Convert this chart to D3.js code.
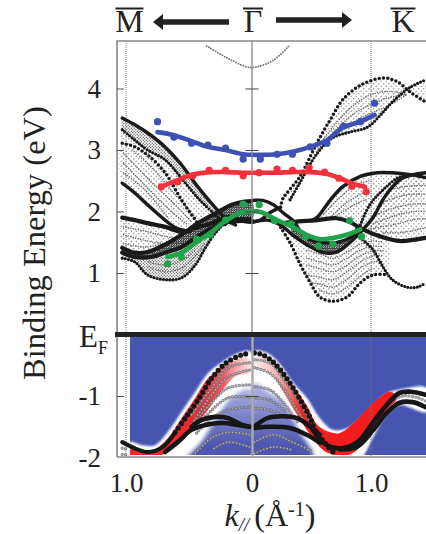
<!DOCTYPE html>
<html><head><meta charset="utf-8">
<script src="https://cdn.jsdelivr.net/npm/d3@7"></script>
<style>html,body{margin:0;padding:0;background:#fff}svg{display:block}text{font-family:"Liberation Serif","Times New Roman",serif;fill:#222}</style>
</head><body><svg id="c" width="426" height="534"></svg>
<script>
// ---------- axis data ----------
const energyTicks=[4,3,2,1,-1,-2], energyLabels=["4","3","2","1","-1","-2"];
const kTicks=[-1,0,1], kLabels=["1.0","0","1.0"];
const symmetryNames=["M","Γ","K"];
// ---------- calculated band edges (k, E) ----------
const L1k=[-1.03,-.93,-.83,-.69,-.56,-.43,-.29,-.19,-.13], L1E=[3.52,3.41,3.28,3.05,2.76,2.4,2.06,1.85,1.78];
const L1bk=[-1.03,-.93,-.83,-.69,-.56,-.43,-.29,-.21], L1bE=[3.33,3.16,3.0,2.84,2.54,2.22,1.94,1.78];
const L3k=[-1.03,-.93,-.83,-.69,-.56,-.45,-.41], L3E=[3.11,3.05,2.92,2.63,2.19,1.86,1.75];
const L4k=[-1.03,-.93,-.83,-.69,-.6,-.49], L4E=[2.46,2.3,2.11,1.86,1.73,1.67];
const L5k=[-1.03,-.93,-.83,-.69,-.56,-.45,-.32,-.19,-.1,0], L5E=[1.9,1.86,1.81,1.75,1.67,1.73,1.81,1.91,1.86,1.83];
const H1k=[-1.03,-.93,-.8,-.69,-.56,-.45,-.32,-.19,-.06,0], H1E=[1.33,1.26,1.26,1.33,1.42,1.57,1.73,1.83,1.85,1.85];
const H2k=[-1.03,-.93,-.83,-.69,-.56,-.43,-.29,-.16,-.06,0], H2E=[1.41,1.33,1.34,1.46,1.62,1.81,1.97,2.11,2.16,2.17];
const Bk=[-1.03,-.93,-.83,-.69,-.56,-.45,-.37,-.29,-.21,-.08,0], BE=[1.24,1.18,.97,.89,.92,1.13,1.41,1.65,1.81,1.89,1.89];
const Rh1k=[.01,.09,.18,.26,.34,.46,.68,.82,.91], Rh1E=[2.18,2.18,2.11,1.98,1.86,1.57,1.49,1.57,1.7];
const Rupk=[.01,.07,.15,.24], RupE=[1.83,1.86,1.98,2.07];
const Rfk=[.24,.34,.55,.71,.82,.93,1.10,1.24,1.46], RfE=[1.8,1.83,1.86,1.89,1.83,1.71,1.58,1.52,1.57];
const Rbk=[.01,.13,.24,.34,.46,.60,.71,.82,.93,1.02,1.10,1.18,1.27,1.46], RbE=[1.83,1.86,1.78,1.62,1.46,1.33,1.34,1.49,1.7,1.91,2.19,2.4,2.55,2.63];
const Rck=[.24,.32,.40,.49,.57,.68,.80,.91,1.02,1.13], RcE=[1.74,1.49,1.16,.84,.61,.54,.61,.84,.97,.97];
const Rdnk=[.88,.91,1.02,1.10,1.18,1.30,1.39,1.46], RdnE=[1.72,1.59,1.37,1.1,.89,.77,.77,.84];
const Rdk=[.5,.55,.66,.76,.91,1.05,1.18,1.33,1.46], RdE=[1.85,1.91,2.19,2.4,2.57,2.63,2.63,2.6,2.55];
const Rgk=[.91,.99,1.10,1.22,1.3], RgE=[1.78,2.11,2.35,2.54,2.6];
const Rek=[.24,.26,.40,.55,.66,.76,.91,1.10,1.22,1.33,1.46], ReE=[2.07,2.21,2.56,3.13,3.5,3.81,4.05,4.17,4.11,3.94,3.78];
const Rtk=[.32,.40,.55,.68,.82,.97,1.08,1.18,1.33,1.46], RtE=[2.19,2.46,2.95,3.2,3.29,3.37,3.57,3.78,4.02,4.14];
const parabolaK=[-.36,-.2,-.04,.04,.18,.31], parabolaE=[4.69,4.5,4.35,4.35,4.46,4.69];
// ---------- interior dotted bands (k, E) ----------
const interiorUpper=[
 [[-1.02,-.83,-.63,-.48],[2.95,2.54,2.15,1.83]],[[-1.02,-.83,-.63,-.52],[2.79,2.38,1.98,1.8]],
 [[-1.02,-.85,-.67],[2.63,2.35,1.91]],[[-.95,-.8,-.62,-.45],[3.0,2.72,2.3,1.9]],
 [[-1.02,-.85,-.7,-.58],[1.75,1.68,1.6,1.55]],[[-1.02,-.85,-.7,-.58],[1.62,1.53,1.48,1.5]],[[-1.02,-.85,-.7],[1.48,1.42,1.48]],
 [[-.82,-.69,-.56,-.45,-.37],[1.1,1.02,1.08,1.28,1.5]],[[-.82,-.69,-.56,-.45],[1.18,1.13,1.2,1.38]],
 [[.46,.57,.68,.80,.91,1.02,1.10],[1.37,1.31,1.24,1.34,1.47,1.52,1.5]],
 [[.46,.57,.68,.80,.91,1.02,1.10],[1.24,1.18,1.13,1.24,1.37,1.44,1.42]],
 [[.46,.57,.68,.80,.91,1.02,1.10],[1.13,1.07,1.02,1.13,1.28,1.36,1.36]],
 [[.46,.57,.68,.80,.91,1.02,1.10],[.97,.93,.89,1.02,1.18,1.28,1.28]],
 [[.51,.57,.68,.80,.91,1.02,1.10],[.84,.82,.77,.9,1.08,1.18,1.18]],
 [[.57,.68,.80,.91,1.02],[.72,.66,.77,.95,1.08]],
 [[1.16,1.27,1.36,1.46],[2.36,2.4,2.42,2.42]],[[1.1,1.27,1.36,1.46],[2.15,2.26,2.28,2.28]],
 [[1.05,1.2,1.36,1.46],[1.95,2.06,2.12,2.12]],[[1.02,1.2,1.36,1.46],[1.8,1.93,2,2]],
 [[1.0,1.2,1.36,1.46],[1.72,1.79,1.87,1.88]],[[1.1,1.27,1.46],[1.66,1.66,1.74]],
 [[.6,.75,.9,1.0],[1.95,2.25,2.45,2.5]],[[.66,.8,.95],[1.9,2.15,2.32]],[[.7,.85,.97],[1.92,2.1,2.2]],
 [[.55,.7,.85,1,1.15,1.3],[3.05,3.42,3.72,3.9,3.95,3.9]],[[.55,.7,.85,1,1.15,1.3],[3,3.32,3.58,3.74,3.85,3.9]],
 [[.6,.7,.85,1,1.15,1.3],[3.12,3.25,3.45,3.6,3.72,3.9]]
];
// ---------- ARPES lines and points ----------
const blueLineK=[-.75,-.62,-.49,-.35,-.21,-.07,.07,.21,.34,.49,.63,.76,.91,1.03], blueLineE=[3.29,3.24,3.15,3.05,3.0,2.93,2.92,2.93,2.97,3.05,3.16,3.36,3.46,3.57];
const blueK=[-.75,-.62,-.48,-.35,-.21,-.07,.07,.21,.34,.49,.63,.77,.91,1.03], blueE=[3.46,3.21,3.11,3.08,3.03,2.85,2.85,2.93,2.93,3.05,3.11,3.39,3.46,3.76];
const redLineK=[-.72,-.6,-.47,-.33,-.2,-.07,.07,.21,.34,.49,.63,.74,.85,.95], redLineE=[2.4,2.5,2.6,2.64,2.64,2.63,2.63,2.63,2.64,2.64,2.61,2.54,2.45,2.4];
const redK=[-.72,-.59,-.47,-.34,-.21,-.07,.06,.21,.34,.48,.61,.73,.84,.96], redE=[2.4,2.48,2.58,2.67,2.67,2.58,2.63,2.69,2.67,2.71,2.64,2.54,2.41,2.32];
const greenLineK=[-.67,-.56,-.44,-.32,-.2,-.07,.07,.21,.34,.46,.57,.68,.81,.91], greenLineE=[1.26,1.33,1.5,1.67,1.86,1.99,1.99,1.86,1.75,1.62,1.55,1.57,1.63,1.71];
const greenK=[-.67,-.56,-.44,-.33,-.21,-.07,.06,.19,.33,.45,.56,.68,.82,.92], greenE=[1.15,1.26,1.55,1.62,1.86,2.12,2.11,1.85,1.8,1.59,1.44,1.47,1.85,1.59];
// ---------- lower panel curves ----------
const Lo1Lk=[-1.03,-.93,-.83,-.71,-.61,-.53,-.43,-.32,-.21,-.08,-.02], Lo1LE=[-1.75,-1.85,-1.91,-1.83,-1.59,-1.36,-1.07,-.71,-.47,-.33,-.31];
const Lo1Rk=[.02,.09,.18,.26,.34,.42,.49,.53,.61,.68], Lo1RE=[-.3,-.33,-.45,-.63,-.85,-1.11,-1.36,-1.55,-1.76,-1.91];
const Lo2Rk=[.51,.63,.74,.88,1.02,1.13,1.24,1.33,1.46], Lo2RE=[-1.55,-1.8,-1.85,-1.76,-1.42,-1.15,-.95,-.93,-.98];
const Lo3Rk=[.74,.88,1.02,1.13,1.24,1.35,1.46], Lo3RE=[-1.87,-1.83,-1.55,-1.28,-1.11,-1.1,-1.18];
const HumpRk=[.02,.13,.26,.38,.49,.57], HumpRE=[-1.5,-1.36,-1.33,-1.36,-1.5,-1.63];
const FlatRk=[.02,.15,.32,.46,.57], FlatRE=[-1.52,-1.5,-1.52,-1.63,-1.76];
const HumpLk=[-.48,-.4,-.29,-.19,-.08,-.02], HumpLE=[-1.5,-1.39,-1.34,-1.36,-1.47,-1.5];
const FlatLk=[-.69,-.59,-.48,-.37,-.24,-.11,-.02], FlatLE=[-1.91,-1.75,-1.55,-1.47,-1.44,-1.47,-1.5];
const ringCurves=[
 [[-.02,-.19,-.32,-.48],[-.46,-.54,-.87,-1.31]],[[-.02,-.19,-.32,-.48],[-.58,-.69,-.98,-1.47]],
 [[-.02,-.19,-.32,-.45],[-.82,-.87,-1.1,-1.44]],[[-.02,-.19,-.32,-.45],[-1.02,-1.03,-1.23,-1.52]],
 [[-.02,-.19,-.32,-.45],[-1.18,-1.23,-1.36,-1.63]],[[-.02,-.19,-.32,-.45],[-1.63,-1.59,-1.68,-1.93]],[[-.02,-.19,-.32],[-1.83,-1.75,-1.88]],
 [[.02,.15,.26,.38,.49],[-.41,-.46,-.71,-1.03,-1.42]],[[.02,.15,.26,.38,.46],[-.54,-.63,-.87,-1.23,-1.47]],
 [[.02,.15,.26,.38],[-.85,-.9,-1.1,-1.42]],[[.02,.15,.29],[-1.03,-1.07,-1.26]],[[.02,.15,.29],[-1.2,-1.23,-1.36]],
 [[.02,.18,.34,.51],[-1.75,-1.63,-1.75,-1.91]],[[.02,.18,.34],[-1.93,-1.83,-1.88]],
 [[1.05,1.16,1.27,1.38,1.46],[-1.35,-1.1,-1.0,-1.02,-1.08]],
 [[-1.03,-.98],[-1.85,-1.87]],[[-1.03,-.98],[-1.95,-1.95]]
];
// ---------- photoemission intensity regions ----------
const haloLk=[-.97,-.87,-.77,-.67,-.56,-.45,-.35,-.24,-.11,-.01,-.01,-.97], haloLE=[-1.75,-1.8,-1.8,-1.59,-1.26,-.93,-.63,-.45,-.3,-.28,-2.05,-2.05];
const haloRk=[.01,.13,.24,.34,.46,.57,.68,.80,.91,1.02,1.13,1.23,1.47,1.47,1.24,1.13,1.03,.95,.9,.01], haloRE=[-.28,-.3,-.49,-.77,-1.03,-1.36,-1.55,-1.52,-1.36,-1.15,-.96,-.9,-.87,-1.26,-1.15,-1.31,-1.63,-1.93,-2.05,-2.05];
const patchLk=[-.02,-.15,-.28,-.4,-.52,-.02], patchLE=[-.9,-1.0,-1.35,-1.75,-2.05,-2.05];
const patchRk=[.02,.15,.26,.4,.51,.51,.02], patchRE=[-.8,-.95,-1.1,-1.58,-1.92,-2.05,-2.05];
const redLk=[-.97,-.79,-.67,-.56,-.45,-.35,-.21,-.03,-.02,-.13,-.24,-.37,-.51,-.63,-.77,-.97], redLE=[-1.85,-1.88,-1.69,-1.36,-1.03,-.71,-.5,-.38,-.62,-.68,-.92,-1.28,-1.6,-1.86,-1.99,-1.99];
const redRk=[.01,.15,.26,.36,.46,.55,.66,.74,.88,1.02,1.16,1.22,1.13,1.05,.93,.82,.63,.49,.38,.26,.15,.01], redRE=[-.38,-.38,-.61,-.87,-1.15,-1.47,-1.59,-1.6,-1.39,-1.11,-.93,-1.03,-1.23,-1.47,-1.79,-1.95,-1.92,-1.63,-1.31,-.93,-.6,-.54];

// ---------- scales ----------
const x=d3.scaleLinear().domain([-1,0,1,1.5]).range([126,252,371,430.5]);
const y=d3.scaleLinear().domain([-2,4.77]).range([457.5,41.1]);
const svg=d3.select("#c");
const zip=(k,e)=>k.map((v,i)=>[v,e[i]]);
const line=d3.line().x(d=>x(d[0])).y(d=>y(d[1])).curve(d3.curveCatmullRom.alpha(.5));
const poly=d3.line().x(d=>x(d[0])).y(d=>y(d[1])).curve(d3.curveCatmullRomClosed.alpha(.5));
const between=(a,b)=>zip(a[0],a[1]).concat(zip(b[0],b[1]).reverse());

const defs=svg.append("defs");
[["b05",.6],["b1",1],["b2",2],["b3",3.5]].forEach(([id,s])=>defs.append("filter").attr("id",id).attr("x","-20%").attr("y","-20%").attr("width","140%").attr("height","140%").append("feGaussianBlur").attr("stdDeviation",s));
function dots(id,size,r,col){const p=defs.append("pattern").attr("id",id).attr("width",size).attr("height",size).attr("patternUnits","userSpaceOnUse");
 p.append("circle").attr("cx",size/4).attr("cy",size/4).attr("r",r).attr("fill",col);p.append("circle").attr("cx",size*.75).attr("cy",size*.75).attr("r",r).attr("fill",col);}
dots("dLight",5,.75,"#8f8f8f");dots("dDense",3,.75,"#6a6a6a");dots("dDark",2.4,.95,"#2c2c2c");
defs.append("clipPath").attr("id","clipHeat").append("rect").attr("x",130).attr("y",337).attr("width",296).attr("height",118);
defs.append("clipPath").attr("id","clipLow").append("rect").attr("x",117).attr("y",337).attr("width",309).attr("height",120);
const gL=defs.append("linearGradient").attr("id","gL").attr("gradientUnits","userSpaceOnUse").attr("x1",x(-.4)).attr("x2",x(0)).attr("y1",0).attr("y2",0);
[[0,"#f2262b",1],[.45,"#f04048",.85],[1,"#f6b5b5",.35]].forEach(s=>gL.append("stop").attr("offset",s[0]).attr("stop-color",s[1]).attr("stop-opacity",s[2]));
const gR=defs.append("linearGradient").attr("id","gR").attr("gradientUnits","userSpaceOnUse").attr("x1",x(.03)).attr("x2",x(.42)).attr("y1",0).attr("y2",0);
[[0,"#f6b5b5",.3],[.55,"#f06a6a",.65],[1,"#f41c1c",1]].forEach(s=>gR.append("stop").attr("offset",s[0]).attr("stop-color",s[1]).attr("stop-opacity",s[2]));
const gP=defs.append("linearGradient").attr("id","gP").attr("gradientUnits","userSpaceOnUse").attr("x1",0).attr("x2",0).attr("y1",y(-.85)).attr("y2",y(-1.8));
[[0,"#b0b3e2"],[.5,"#7d83ca"],[1,"#4c56b1"]].forEach(s=>gP.append("stop").attr("offset",s[0]).attr("stop-color",s[1]));

// ---------- heat panel ----------
const heat=svg.append("g").attr("clip-path","url(#clipHeat)");
heat.append("rect").attr("x",130).attr("y",337).attr("width",296).attr("height",118).attr("fill","#4555b0");
heat.append("path").attr("d",poly(zip(haloLk,haloLE))).attr("fill","#fff").attr("filter","url(#b1)");
heat.append("path").attr("d",poly(zip(haloRk,haloRE))).attr("fill","#fff").attr("filter","url(#b1)");
heat.append("path").attr("d",poly(zip(patchLk,patchLE))).attr("fill","url(#gP)").attr("filter","url(#b2)");
heat.append("path").attr("d",poly(zip(patchRk,patchRE))).attr("fill","url(#gP)").attr("filter","url(#b2)");
heat.append("path").attr("d",poly(zip(redLk,redLE))).attr("fill","url(#gL)").attr("filter","url(#b05)");
heat.append("path").attr("d",poly(zip(redRk,redRE))).attr("fill","url(#gR)").attr("filter","url(#b05)");

// ---------- frame and guides ----------
const guides=svg.append("g").attr("fill","none");
[-1,1].forEach(k=>guides.append("line").attr("x1",x(k)).attr("x2",x(k)).attr("y1",41).attr("y2",457).attr("stroke",k<0?"#888":"#777").attr("stroke-width",1).attr("stroke-dasharray","1 1"));

// ---------- band fills ----------
const fills=svg.append("g");
const fill=(pts,p)=>fills.append("path").attr("d",poly(pts)).attr("fill",`url(#${p})`);
fill(between([L1k,L1E],[L1bk,L1bE]),"dDense");
fill(between([L1bk,L1bE],[L3k,L3E]),"dLight");
fill(between([L3k,L3E],[L4k,L4E]),"dLight");
fill(between([L5k.slice(0,6),L5E.slice(0,6)],[H2k.slice(0,5),H2E.slice(0,5)]),"dLight");
fill(between([H2k,H2E],[H1k,H1E]),"dDark");
fill(between([H1k.slice(0,8),H1E.slice(0,8)],[Bk.slice(0,9),BE.slice(0,9)]),"dDense");
fill(between([Rek.slice(1),ReE.slice(1)],[Rtk,RtE]),"dLight");
fill(between([Rbk.slice(3,11),RbE.slice(3,11)],[Rck,RcE]),"dLight");
fill(between([Rbk.slice(8),RbE.slice(8)],[Rfk.slice(5),RfE.slice(5)]),"dLight");
fill(between([Rdk,RdE],[Rfk.slice(2,7),RfE.slice(2,7)]),"dLight");
fill(between([Rh1k.slice(4),Rh1E.slice(4)],[Rbk.slice(3,9),RbE.slice(3,9)]),"dDark");

const draw=(g,k,e,col,w,dash)=>{const p=g.append("path").datum(zip(k,e)).attr("d",line).attr("fill","none").attr("stroke",col).attr("stroke-width",w).attr("stroke-linecap","round").attr("stroke-linejoin","round");if(dash)p.attr("stroke-dasharray",dash);return p;};

const bands=svg.append("g");
interiorUpper.forEach(c=>draw(bands,c[0],c[1],"#666",1.6,"0 2.5"));
draw(bands,parabolaK,parabolaE,"#777",2,"0 2.6");
[[L3k,L3E],[Rck,RcE],[Rek,ReE]].forEach(c=>draw(bands,c[0],c[1],"#1a1a1a",3.5,"0 4.3"));
[[Bk,BE],[Rdnk,RdnE],[Rgk,RgE],[Rtk,RtE],[L1bk,L1bE]].forEach(c=>draw(bands,c[0],c[1],"#1a1a1a",3.2,"0 3.2"));
[[L1k,L1E],[L4k,L4E],[Rdk,RdE],[Rbk,RbE],[Rh1k,Rh1E],[Rupk,RupE]].forEach(c=>draw(bands,c[0],c[1],"#1a1a1a",3.4));
[[L5k,L5E],[H1k,H1E],[H2k,H2E],[Rfk,RfE]].forEach(c=>draw(bands,c[0],c[1],"#1a1a1a",4.2));

// ---------- lower panel curves ----------
const low=svg.append("g").attr("clip-path","url(#clipLow)");
ringCurves.forEach(c=>{draw(low,c[0],c[1],"#6d6d6d",3.4,"0 3.4").attr("opacity",.8);draw(low,c[0],c[1],"#c6c4e4",1.5,"0 3.4").attr("opacity",.9);});
draw(low,Lo1Lk.slice(0,5),Lo1LE.slice(0,5),"#161616",4);
draw(low,Lo1Lk.slice(4),Lo1LE.slice(4),"#161616",5.2,"0 5.4");
draw(low,Lo1Rk,Lo1RE,"#161616",5.2,"0 5.4");
[[Lo2Rk,Lo2RE],[Lo3Rk,Lo3RE],[HumpRk,HumpRE],[FlatRk,FlatRE],[HumpLk,HumpLE],[FlatLk,FlatLE]].forEach(c=>draw(low,c[0],c[1],"#161616",4.6));

// ---------- ARPES overlays ----------
const arpes=svg.append("g");
[[blueLineK,blueLineE,blueK,blueE,"#3f51b5"],[redLineK,redLineE,redK,redE,"#f4303c"],[greenLineK,greenLineE,greenK,greenE,"#1fa34b"]].forEach(([lk,le,pk,pe,c])=>{
 draw(arpes,lk,le,c,4.6);
 arpes.selectAll(null).data(zip(pk,pe)).join("circle").attr("cx",d=>x(d[0])).attr("cy",d=>y(d[1])).attr("r",3.6).attr("fill",c);
});

// ---------- axes ----------
const ax=svg.append("g");
const frameCol="#888";
ax.append("path").attr("d",`M117,457V41H426`).attr("fill","none").attr("stroke",frameCol).attr("stroke-width",1.6);
ax.append("path").attr("d",`M117,457H426`).attr("fill","none").attr("stroke",frameCol).attr("stroke-width",1.4);
ax.append("line").attr("x1",x(0)).attr("x2",x(0)).attr("y1",41).attr("y2",337).attr("stroke",frameCol).attr("stroke-width",1.3);
ax.append("line").attr("x1",x(0)+.5).attr("x2",x(0)+.5).attr("y1",337).attr("y2",457).attr("stroke","#aaa").attr("stroke-width",2.4);

const left=svg.append("g").attr("transform","translate(117,0)").call(d3.axisLeft(y).tickValues(energyTicks).tickSize(-7).tickPadding(16).tickFormat((d,i)=>energyLabels[i]));
left.select(".domain").remove();
left.selectAll("line").attr("stroke","#555").attr("stroke-width",1);
left.selectAll("text").attr("font-size",27).attr("font-family","Liberation Serif").attr("fill","#222");
left.selectAll(".tick").filter(d=>d===-2).select("line").remove();
const mid=svg.append("g").attr("transform",`translate(${x(0)},0)`).call(d3.axisRight(y).tickValues(energyTicks.filter(d=>d!==-2)).tickSize(7).tickFormat(""));
mid.select(".domain").remove();
mid.selectAll("line").attr("x1",-6.5).attr("x2",6.5).attr("stroke","#444").attr("stroke-width",1);
const bottom=svg.append("g").attr("transform","translate(0,457)").call(d3.axisBottom(x).tickValues(kTicks).tickSize(0).tickPadding(16).tickFormat((d,i)=>kLabels[i]));
bottom.select(".domain").remove();
bottom.selectAll("text").attr("font-size",27).attr("font-family","Liberation Serif").attr("fill","#222");

// EF bar and label
svg.append("line").attr("x1",115).attr("x2",426).attr("y1",y(0)).attr("y2",y(0)).attr("stroke","#222").attr("stroke-width",5);
const ef=svg.append("text").attr("x",79).attr("y",347).attr("font-size",31);
ef.append("tspan").text("E");
ef.append("tspan").attr("font-size",18).attr("dy",7).text("F");

svg.append("text").attr("transform","translate(45,243) rotate(-90)").attr("text-anchor","middle").attr("font-size",32.5).text("Binding Energy (eV)");

const kl=svg.append("text").attr("x",270).attr("y",526).attr("text-anchor","middle").attr("font-size",32);
kl.append("tspan").attr("font-style","italic").text("k");
kl.append("tspan").attr("font-style","italic").attr("font-size",19).attr("dy",5).text("//");
kl.append("tspan").attr("dy",-5).attr("dx",5).text("(Å");
kl.append("tspan").attr("font-size",20).attr("dy",-10).text("-1");
kl.append("tspan").attr("dy",10).text(")");

// symmetry labels with overbars and arrows
const symPx=[129.5,253,403], barW=[27,19,24];
symmetryNames.forEach((n,i)=>{
 svg.append("text").attr("x",symPx[i]).attr("y",32).attr("text-anchor","middle").attr("font-size",32).text(n);
 svg.append("line").attr("x1",symPx[i]-barW[i]/2-.5).attr("x2",symPx[i]+barW[i]/2+.5).attr("y1",8.5).attr("y2",8.5).attr("stroke","#222").attr("stroke-width",2);
});
const arrow=(x0,x1,yy)=>{const s=Math.sign(x1-x0);
 svg.append("path").attr("fill","#222").attr("d",`M${x0},${yy-2.8}H${x1-s*10}V${yy-8}L${x1},${yy}L${x1-s*10},${yy+8}V${yy+2.8}H${x0}Z`);};
arrow(229,153,22);arrow(276,352,20);
</script></body></html>
